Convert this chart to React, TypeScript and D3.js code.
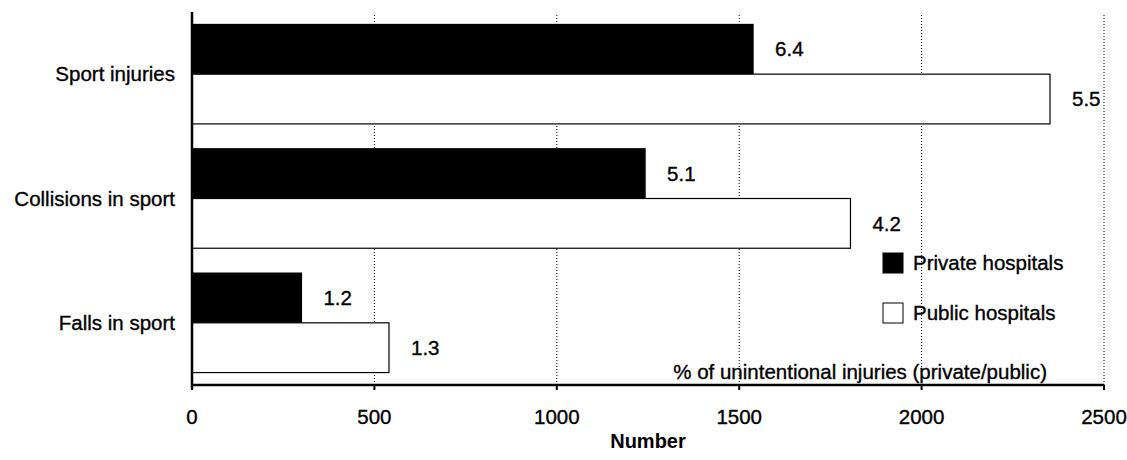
import React from "react";
import * as d3 from "d3";

const categories = ["Sport injuries", "Collisions in sport", "Falls in sport"];
const seriesNames = ["Private hospitals", "Public hospitals"];
const privateValues = [1538, 1242, 300];
const publicValues = [2352, 1805, 540];
const privatePct = ["6.4", "5.1", "1.2"];
const publicPct = ["5.5", "4.2", "1.3"];
const xTicks = [0, 500, 1000, 1500, 2000, 2500];
const xTitle = "Number";
const note = "% of unintentional injuries (private/public)";

const W = 1127;
const H = 460;
const FONT = "Liberation Sans, Arial, Helvetica, sans-serif";
const FS = 20.5;

export default function App() {
  const x = d3.scaleLinear().domain([0, 2500]).range([192, 1104]);
  const y = d3.scaleBand<string>().domain(categories).range([12, 385]).paddingInner(0.2).paddingOuter(0.1);
  const sub = d3.scaleBand<string>().domain(seriesNames).range([0, y.bandwidth()]).padding(0);
  const axisY = 385;
  const values = [privateValues, publicValues];
  const pcts = [privatePct, publicPct];
  const fills = ["#000", "#fff"];
  const txt = { fill: "#000", stroke: "#000", strokeWidth: 0.35 };

  return (
    <svg width={W} height={H} style={{ position: "absolute", left: 0, top: 0, background: "#fff" }} fontFamily={FONT}>
      <rect x={0} y={0} width={W} height={H} fill="#fff" />
      {/* gridlines */}
      {xTicks.filter((t) => t > 0).map((t) => (
        <line key={"g" + t} x1={x(t)} x2={x(t)} y1={15} y2={axisY} stroke="#000" strokeWidth={1} strokeDasharray="1,2" />
      ))}
      {/* bars */}
      {categories.map((c, i) =>
        seriesNames.map((s, j) => {
          const v = values[j][i];
          const y0 = (y(c) as number) + (sub(s) as number);
          const bw = sub.bandwidth();
          return (
            <g key={c + s}>
              <rect x={x(0)} y={y0} width={x(v) - x(0)} height={bw} fill={fills[j]} stroke="#000" strokeWidth={1.2} />
              <text x={x(v) + 22} y={y0 + bw / 2} dy="0.35em" fontSize={FS} {...txt}>
                {pcts[j][i]}
              </text>
            </g>
          );
        })
      )}
      {/* y axis */}
      <line x1={x(0)} x2={x(0)} y1={12} y2={axisY + 4} stroke="#000" strokeWidth={2.5} />
      {categories.map((c) => (
        <text key={"l" + c} x={175} y={(y(c) as number) + y.bandwidth() / 2} dy="0.35em" textAnchor="end" fontSize={FS} {...txt}>
          {c}
        </text>
      ))}
      {/* x axis */}
      <line x1={x(0) - 1} x2={x(2500)} y1={axisY} y2={axisY} stroke="#000" strokeWidth={2.5} />
      {xTicks.map((t) => (
        <g key={"t" + t}>
          <line x1={x(t)} x2={x(t)} y1={axisY} y2={axisY + 5} stroke="#000" strokeWidth={2} />
          <text x={x(t)} y={417} dy="0.35em" textAnchor="middle" fontSize={FS} {...txt}>
            {t}
          </text>
        </g>
      ))}
      <text x={(x(0) + x(2500)) / 2} y={441} dy="0.35em" textAnchor="middle" fontSize={20} fontWeight="bold" fill="#000">
        {xTitle}
      </text>
      {/* legend */}
      {seriesNames.map((s, j) => (
        <g key={"lg" + s} transform={`translate(883, ${253 + j * 50})`}>
          <rect x={0} y={0} width={20} height={20} fill={fills[j]} stroke="#000" strokeWidth={1} />
          <text x={30} y={10} dy="0.35em" fontSize={FS} {...txt}>
            {s}
          </text>
        </g>
      ))}
      <text x={1047} y={372} dy="0.35em" textAnchor="end" fontSize={FS} {...txt}>
        {note}
      </text>
    </svg>
  );
}
